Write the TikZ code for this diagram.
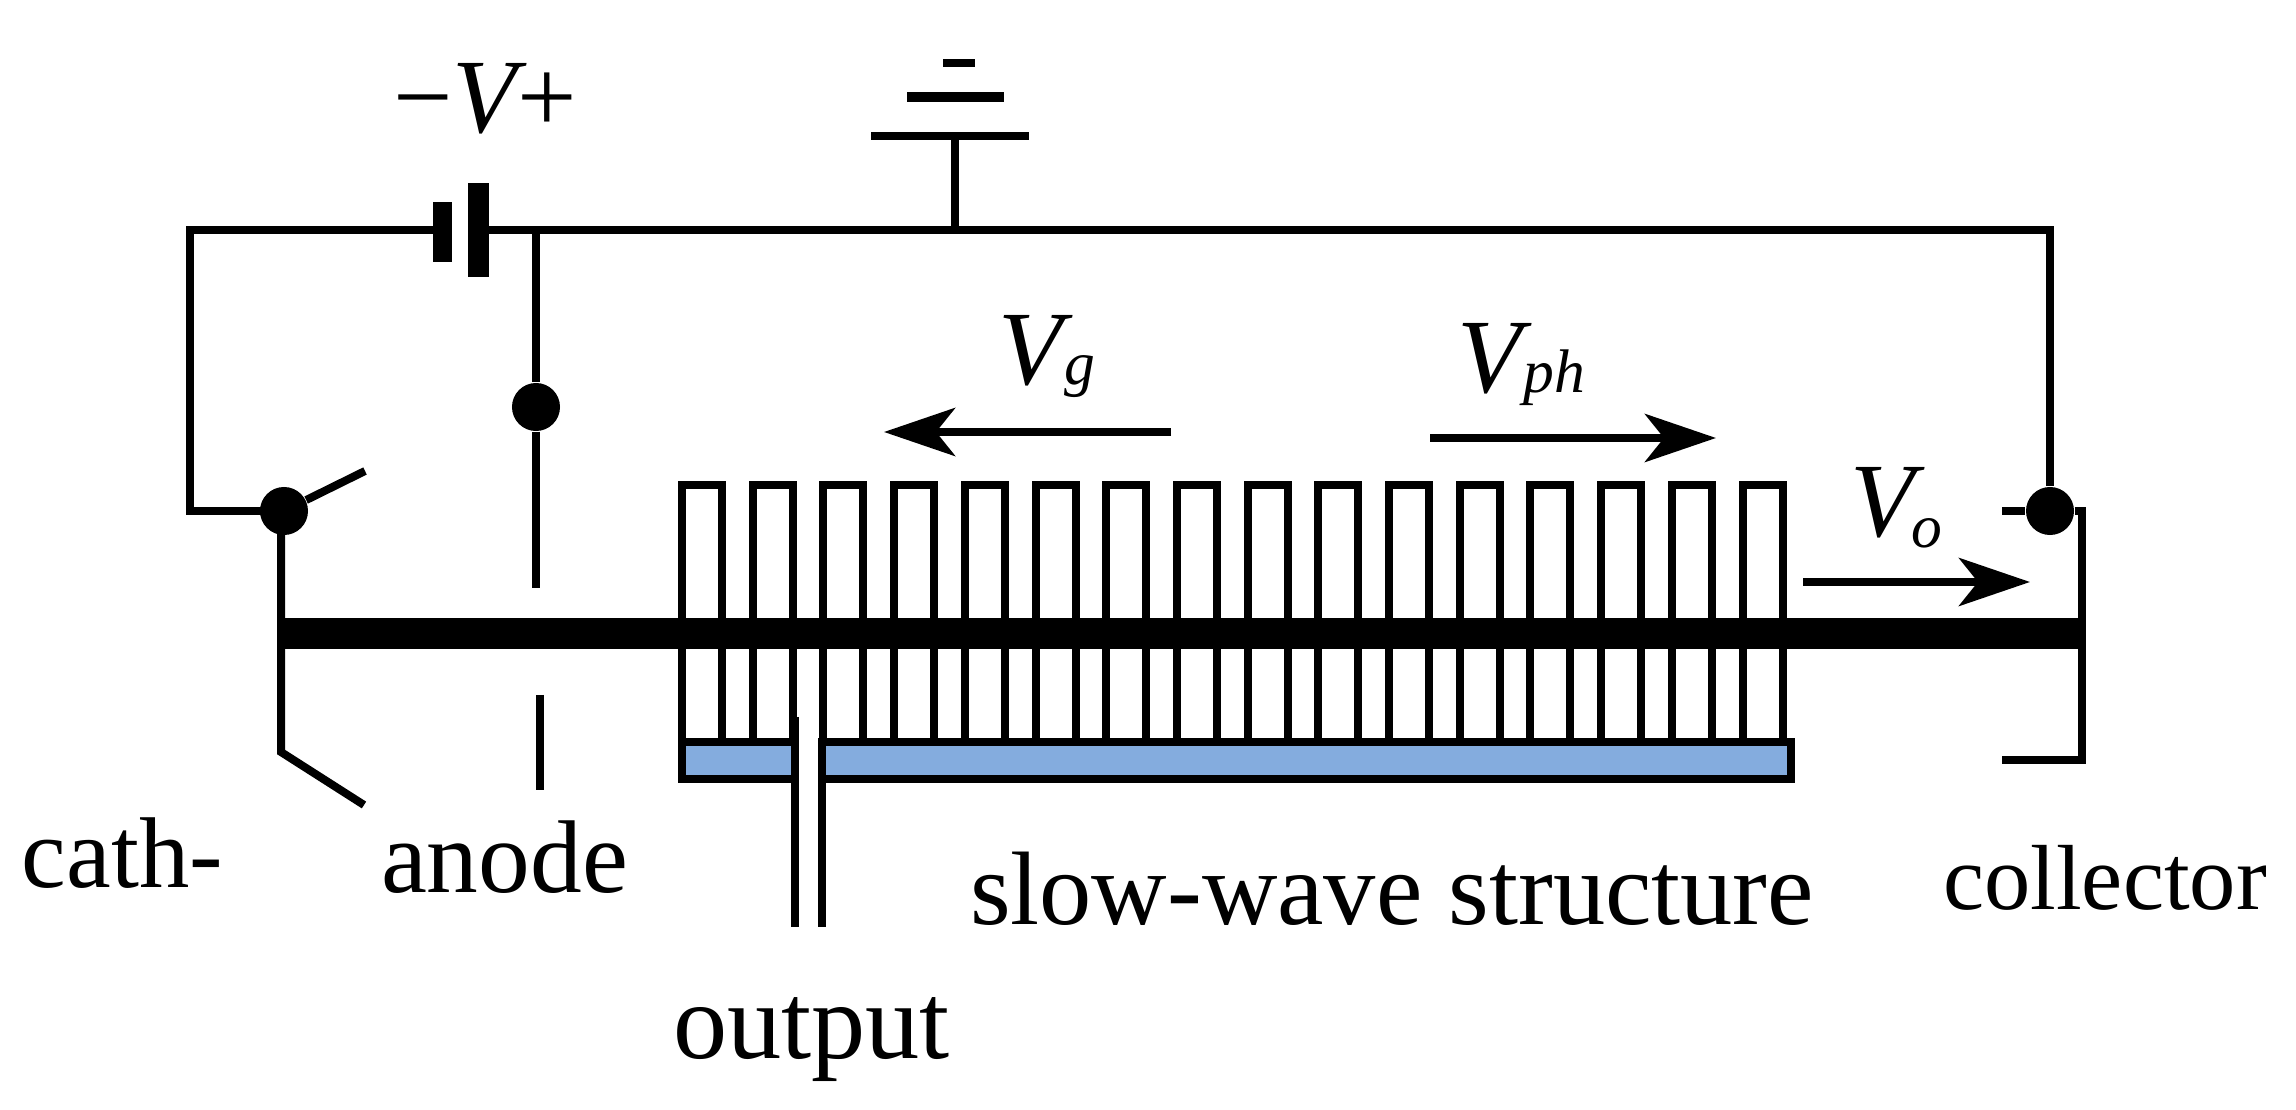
\documentclass[tikz,border=0pt]{standalone}
\usepackage{fontspec}
\setmainfont{Liberation Serif}
\usepackage{xcolor}
\usetikzlibrary{arrows.meta,calc,positioning}
\definecolor{slabblue}{RGB}{132,172,222}
\def\vel#1#2#3{\textit{V}\kern#2pt\raisebox{#3pt}{\fontsize{17.5}{18}\selectfont\textit{#1}}}

\begin{document}
\begin{tikzpicture}
    	[x=0.01cm, y=-0.01cm,
    		wire/.style={
    		  line width=0.08cm,
    		  draw=black
    		},
    		beam/.style={
    		  line width=0.31cm,
    		  draw=black
    		},
    		plate/.style={
    		  rectangle,
    		  fill=black,
    		  draw=none,
    		  inner sep=0pt
    		},
    		dot/.style={
    		  circle,
    		  fill=black,
    		  draw=none,
    		  inner sep=0pt,
    		  minimum size=0.48cm
    		},
    		flow/.style={
    		  wire,
    		  -{Stealth[length=0.71cm,width=0.48cm,inset=0.19cm]}
    		},
    		lbl/.style={
    		  anchor=base,
    		  inner sep=0pt,
    		  font=\fontsize{#1}{30}\selectfont
    		},
    		sym/.style={
    		  anchor=base,
    		  inner sep=0pt,
    		  font=\fontsize{30}{32}\selectfont
    		}
    	]
    	\useasboundingbox (0,0) rectangle (2296,1110);

    	% circuit
    	\node[dot] (catdot) at (284,511) {};
    	\node[dot] (anodot) at (536,407) {};
    	\node[dot] (coldot) at (2050,511) {};
    	\coordinate (batl) at (190,230);
    	\coordinate (bato) at (536,230);
    	\coordinate (gnd) at (955,230);
    	\coordinate (batr) at (2050,230);
    	\coordinate (gndtop) at (955,136);
    	\draw[wire] (catdot.center) -- (190,511) -- (batl) -- (433,230);
    	\draw[wire] (488,230) -- (bato) -- (gnd) -- (batr) -- (coldot);
    	\draw[wire] (gnd) -- (gndtop);
    	\draw[wire] (bato) -- (anodot) -- (536,588);
    	\draw[wire] (540,695) -- (540,790);
    	\node[plate, minimum width=0.19cm, minimum height=0.60cm] (batthin) at (442.5,232) {};
    	\node[plate, minimum width=0.20cm, minimum height=0.94cm] (batthick) at (478.5,230) {};
    	\node[plate, minimum width=1.57cm, minimum height=0.08cm] (gndlow) at (950,136) {};
    	\node[plate, minimum width=0.97cm, minimum height=0.10cm] (gndmid) at (955.5,97) {};
    	\node[plate, minimum width=0.32cm, minimum height=0.08cm] (gndtip) at (959,63) {};

    	% cathode and collector
    	\draw[wire] (catdot) -- (365,471);
    	\draw[wire] (281,511) -- (281,752) -- (364,805);
    	\draw[wire] (2002,511) -- (coldot);
    	\draw[wire] (coldot) -- (2082,511) -- (2082,760) -- (2002,760);

    	% slow-wave structure
    	\foreach \i in {0,...,15}{
    		\draw[wire] ({682+70.7*\i},742) -- ({682+70.7*\i},485.5) -- ({722+70.7*\i},485.5) -- ({722+70.7*\i},742);
    	}
    	\draw[wire, fill=slabblue] (682,742) rectangle (1791,779);
    	\fill[white] (798,716) rectangle (818,790);
    	\draw[wire] (794.5,717) -- (794.5,927);
    	\draw[wire] (822,742) -- (822,927);
    	\coordinate (beaml) at (279,633.5);
    	\coordinate (beamr) at (2086,633.5);
    	\draw[beam] (beaml) -- (beamr);

    	% arrows
    	\coordinate (gs) at (1171,432);
    	\coordinate (ge) at (884,432);
    	\coordinate (phs) at (1430,438);
    	\coordinate (phe) at (1716,438);
    	\coordinate (os) at (1803,582);
    	\coordinate (oe) at (2030,582);
    	\draw[flow] (gs) -- (ge);
    	\draw[flow] (phs) -- (phe);
    	\draw[flow] (os) -- (oe);

    	% labels
    	\node[sym] (vlab) at (485,133) {−\textit{V}\kern-3pt+};
    	\node[sym, anchor=base west] (vglab) at (998,385) {\vel{g}{-2.5}{0}};
    	\node[sym, anchor=base west] (vphlab) at (1457,393) {\vel{ph}{-2.5}{0}};
    	\node[sym, anchor=base west] (volab) at (1850,537) {\vel{o}{-4}{-3}};
    	\node[lbl=28.6] (cath) at (122.5,888) {cath-};
    	\node[lbl=29.4] (anode) at (504.5,893) {anode};
    	\node[lbl=29.7] (sws) at (1392,925) {slow-wave structure};
    	\node[lbl=26.3] (coll) at (2105,910) {collector};
    	\node[lbl=30.8] (out) at (811.5,1058) {output};
    \end{tikzpicture}
\end{document}
